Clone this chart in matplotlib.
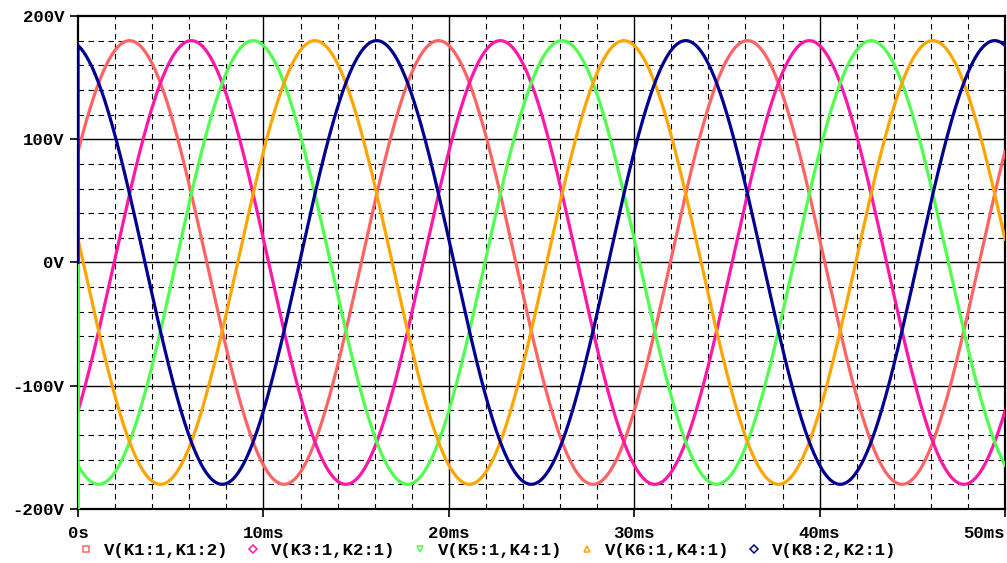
import matplotlib.pyplot as plt
import numpy as np

# five-phase 60 Hz traces
names = ['V(K1:1,K1:2)', 'V(K3:1,K2:1)', 'V(K5:1,K4:1)', 'V(K6:1,K4:1)', 'V(K8:2,K2:1)']
colors = ['#ff6464', '#ff18a8', '#50ff50', '#ffa500', '#000090']
markers = ['s', 'D', 'v', '^', 'D']
amplitude = [180, 180, 180, 180, 180]          # V
phase_deg = [30, -42, -114, -186, -258]        # at t = 0
freq = 60.0                                    # Hz
t_end = 50e-3
# first simulation points at t = 0 (startup step)
start_v = [[0], [0], [0, -260], [0], [0]]

yticks = [-200, -100, 0, 100, 200]
ytick_labels = ['-200V', '-100V', '0V', '100V', '200V']
xticks = [0, 10, 20, 30, 40, 50]
xtick_labels = ['0s', '10ms', '20ms', '30ms', '40ms', '50ms']

font = {'family': 'Liberation Mono', 'weight': 'bold', 'size': 12.5}

fig = plt.figure(figsize=(10.07, 5.63), dpi=100)
ax = fig.add_axes([0.0775, 0.096, 0.9205, 0.8756])

t = np.linspace(0, t_end, 3001)
for i in range(5):
    v = amplitude[i] * np.sin(2 * np.pi * freq * t + np.radians(phase_deg[i]))
    tt = np.concatenate([np.zeros(len(start_v[i])), t]) * 1e3
    vv = np.concatenate([start_v[i], v])
    ax.plot(tt, vv, color=colors[i], lw=2.3, solid_joinstyle='round', zorder=3)

ax.set_xlim(0, 50)
ax.set_ylim(-200, 200)

# dashed minor grid, solid major grid
for x in np.arange(2, 50, 2):
    if x % 10:
        ax.axvline(x, color='black', lw=0.8, dashes=(5, 4), zorder=0)
for y in np.arange(-180, 200, 20):
    if y % 100:
        ax.axhline(y, color='black', lw=0.8, dashes=(5, 4), zorder=0)
for x in xticks[1:-1]:
    ax.axvline(x, color='black', lw=1.0, zorder=0)
for y in yticks[1:-1]:
    ax.axhline(y, color='black', lw=1.0, zorder=0)

for side in ['left', 'bottom', 'top', 'right']:
    ax.spines[side].set_linewidth(1.6)

ax.set_xticks(xticks)
ax.set_xticklabels(xtick_labels, fontdict=font)
ax.get_xticklabels()[-1].set_horizontalalignment('right')
ax.get_xticklabels()[-1].set_x(50)
ax.set_yticks(yticks)
ax.set_yticklabels(ytick_labels, fontdict=font)
ax.tick_params(axis='both', length=6, width=1.2, pad=4)
ax.tick_params(axis='x', pad=6)

handles = [plt.Line2D([], [], ls='none', marker=markers[i], markersize=4,
                      markerfacecolor='none', markeredgecolor=colors[i], markeredgewidth=1.1)
           for i in range(5)]
fig.legend(handles, names, loc='lower left', bbox_to_anchor=(0.07, -0.004), ncol=5,
           frameon=False, prop=font, handlelength=1.0, handletextpad=0.5,
           columnspacing=0.95, borderaxespad=0)

fig.savefig('out.png', dpi=100)
